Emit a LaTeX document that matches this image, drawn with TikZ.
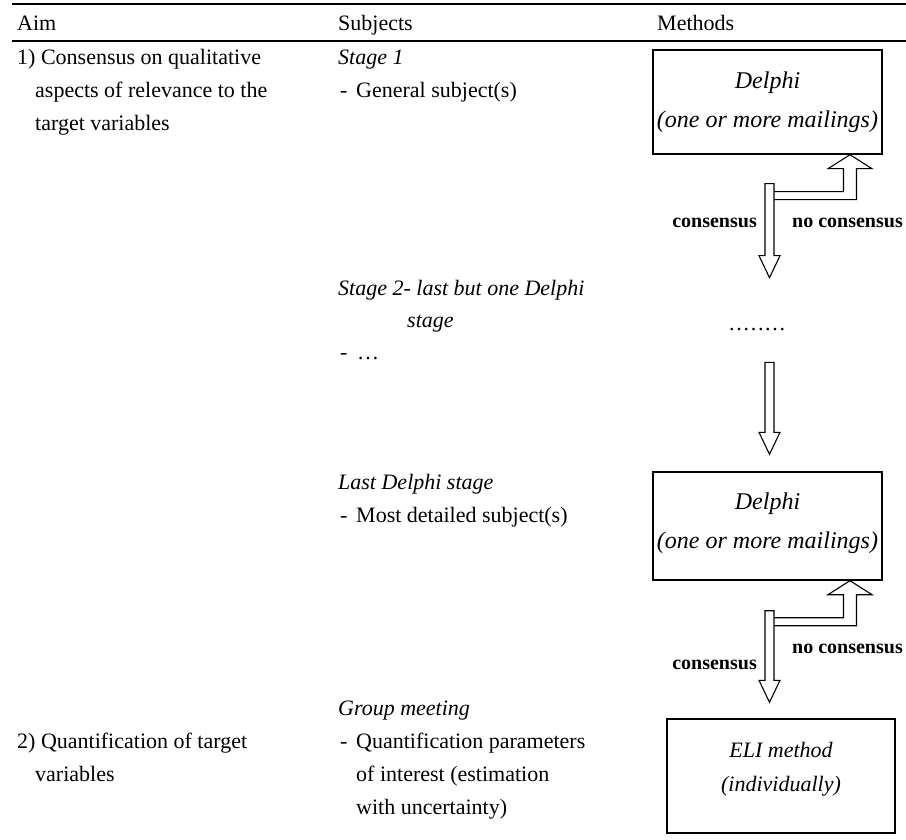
\documentclass[tikz,border=0pt]{standalone}
\usepackage{fontspec}
\setmainfont{Liberation Serif}
\usetikzlibrary{calc}
\newcommand\hdarrow[2]{\draw[arr] ($(#1)+(-4.5,0)$) -- ($(#2)+(-4.5,-22)$) -- ($(#2)+(-10.5,-22)$) -- (#2) -- ($(#2)+(10.5,-22)$) -- ($(#2)+(4.5,-22)$) -- ($(#1)+(4.5,0)$) -- cycle;}
\newcommand\hubranch[1]{\draw[arr] ($(#1)+(-76,37)$) -- ($(#1)+(-6.5,37)$) -- ($(#1)+(-6.5,14)$) -- ($(#1)+(-22,14)$) -- (#1) -- ($(#1)+(22,14)$) -- ($(#1)+(6.5,14)$) -- ($(#1)+(6.5,45)$) -- ($(#1)+(-76,45)$);}
\newcommand\dotrow{\makebox[7.2pt][l]{.}\makebox[7.2pt][l]{.}\makebox[7.2pt][l]{.}\makebox[7.2pt][l]{.}\makebox[7.2pt][l]{.}\makebox[7.2pt][l]{.}\makebox[7.2pt][l]{.}\makebox[7.2pt][l]{.}}
\begin{document}
\begin{tikzpicture}[x=1pt,y=-1pt,
  txt/.style={anchor=base west, inner sep=0pt, font=\fontsize{22pt}{26pt}\selectfont},
  itx/.style={anchor=base west, inner sep=0pt, font=\fontsize{22pt}{26pt}\selectfont\itshape},
  ctx/.style={anchor=base, inner sep=0pt, font=\fontsize{22pt}{26pt}\selectfont\itshape},
  btx/.style={anchor=base, inner sep=0pt, font=\fontsize{24pt}{28pt}\selectfont\itshape},
  lbl/.style={inner sep=0pt, font=\fontsize{20pt}{24pt}\selectfont\bfseries},
  box/.style={draw, line width=1.4pt, inner sep=0pt},
  arr/.style={draw, line width=1.1pt, line join=miter},
  rule/.style={line width=1.3pt}]
\fill[white] (0,0) rectangle (906,840);
\useasboundingbox (0,0) rectangle (906,840);
% table rules
\coordinate (r1l) at (12,4); \coordinate (r1r) at (906,4);
\coordinate (r2l) at (12,41); \coordinate (r2r) at (906,41);
\draw[rule] (r1l) -- (r1r);
\draw[rule] (r2l) -- (r2r);
% header
\node[txt] (hAim) at (17,31) {Aim};
\node[txt] (hSub) at (338,31) {Subjects};
\node[txt] (hMet) at (657,31) {Methods};
% Aim column
\node[txt] (a1) at (17,65) {1) Consensus on qualitative};
\node[txt] (a2) at (35,98) {aspects of relevance to the};
\node[txt] (a3) at (35,131) {target variables};
\node[txt] (b1) at (17,748) {2) Quantification of target};
\node[txt] (b2) at (35,781) {variables};
% Subjects column
\node[itx] (s1) at (338,65) {Stage 1};
\node[txt] (s1d) at (340,98) {-};
\node[txt] (s1t) at (356,98) {General subject(s)};
\node[itx] (s2) at (338,295) {Stage 2- last but one Delphi};
\node[itx] (s2b) at (407,327) {stage};
\node[txt] (s2d) at (340,359) {-};
\node[txt] (s2t) at (357,359) {…};
\node[itx] (s3) at (338,489) {Last Delphi stage};
\node[txt] (s3d) at (340,522) {-};
\node[txt] (s3t) at (356,522) {Most detailed subject(s)};
\node[itx] (s4) at (338,715) {Group meeting};
\node[txt] (s4d) at (340,748) {-};
\node[txt] (s4t) at (356,748) {Quantification parameters};
\node[txt] (s4u) at (356,781) {of interest (estimation};
\node[txt] (s4v) at (356,814) {with uncertainty)};
% Methods column boxes
\node[box, minimum width=229pt, minimum height=104pt] (d1) at (767.5,102) {};
\node[btx] (d1a) at (767.5,89) {Delphi};
\node[btx] (d1b) at (767.5,128) {(one or more mailings)};
\node[txt] (dots) at (729,330) {\dotrow};
\node[box, minimum width=229pt, minimum height=108pt] (d2) at (767.5,526) {};
\node[btx] (d2a) at (767.5,509) {Delphi};
\node[btx] (d2b) at (767.5,548) {(one or more mailings)};
\node[box, minimum width=228pt, minimum height=114pt] (eli) at (781,776) {};
\node[ctx] (ea) at (781,757) {ELI method};
\node[ctx] (eb) at (781,791) {(individually)};
% arrow anchor points
\coordinate (T1) at ($(d1.south)+(82.5,0)$);
\coordinate (S1) at ($(d1.south)+(2,29)$);
\coordinate (P1) at ($(d1.south)+(2,123)$);
\coordinate (S2) at ($(d2.north)+(2,-109)$);
\coordinate (P2) at ($(d2.north)+(2,-17)$);
\coordinate (T2) at ($(d2.south)+(82.5,0)$);
\coordinate (S3) at ($(d2.south)+(2,30)$);
\coordinate (P3) at ($(eli.north)+(-11.5,-16)$);
\hdarrow{S1}{P1}
\hubranch{T1}
\hdarrow{S2}{P2}
\hdarrow{S3}{P3}
\hubranch{T2}
% labels
\node[lbl, anchor=base east] (c1) at (757,228) {consensus};
\node[lbl, anchor=base west] (n1) at (792,228) {no consensus};
\node[lbl, anchor=base east] (c2) at (757,669) {consensus};
\node[lbl, anchor=base west] (n2) at (792,653) {no consensus};
\end{tikzpicture}
\end{document}
